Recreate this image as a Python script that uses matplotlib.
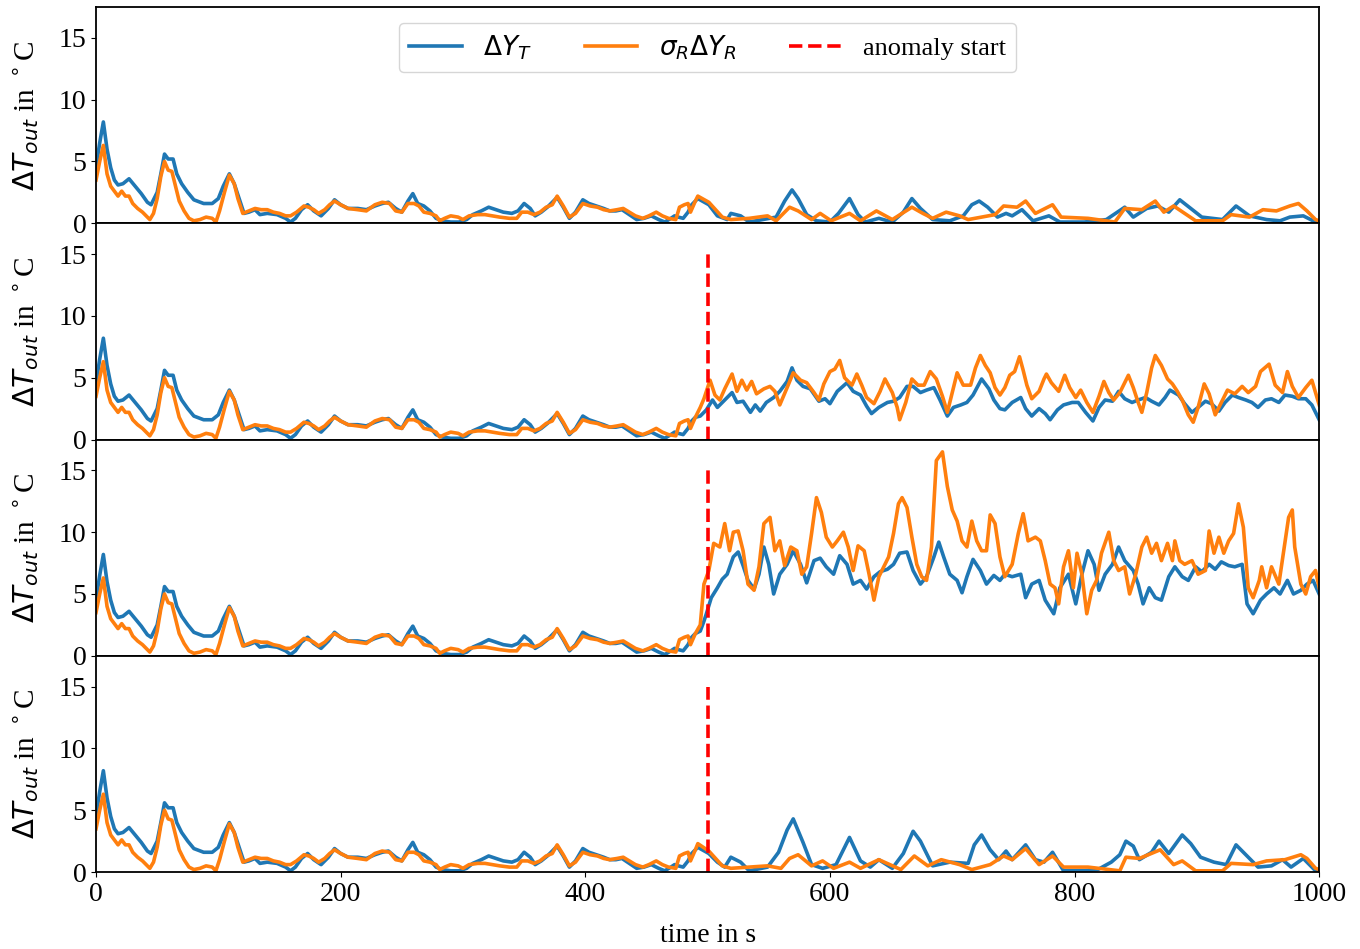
import numpy as np
import matplotlib
matplotlib.use("Agg")
import matplotlib.pyplot as plt

plt.rcParams["font.family"] = "serif"
plt.rcParams["font.serif"] = ["Liberation Serif", "DejaVu Serif"]
plt.rcParams["mathtext.fontset"] = "dejavusans"
plt.rcParams["font.size"] = 20

# shared part (0 .. 490 s), identical in every panel
t_pre = [0, 3, 6, 9, 12, 15, 18, 22, 27, 32, 37, 42, 45, 50, 53, 56, 59, 63, 66, 70, 75, 80, 88, 95,
         100, 104, 109, 113, 117, 121, 125, 130, 134, 140, 148, 155, 159, 163, 168, 173, 178, 184,
         190, 195, 200, 206, 214, 221, 228, 234, 239, 245, 250, 255, 259, 263, 268, 273, 278, 283,
         290, 297, 303, 308, 315, 321, 327, 333, 340, 345, 350, 355, 359, 364, 369, 377, 382, 387,
         392, 398, 403, 409, 415, 420, 425, 430, 436, 442, 448, 454, 460, 465, 470, 473, 476, 480,
         484, 487, 490]
blue_pre = [4.5, 6.5, 8.2, 6.0, 4.5, 3.5, 3.1, 3.2, 3.6, 3.0, 2.4, 1.7, 1.5, 2.5, 4.0, 5.6, 5.2, 5.2,
            4.0, 3.2, 2.5, 1.9, 1.6, 1.6, 2.0, 3.0, 4.0, 3.2, 2.0, 0.8, 0.9, 1.1, 0.7, 0.8, 0.7, 0.4,
            0.1, 0.4, 1.1, 1.5, 1.0, 0.6, 1.2, 1.9, 1.5, 1.2, 1.2, 1.1, 1.4, 1.6, 1.7, 1.2, 0.9, 1.8,
            2.4, 1.6, 1.4, 1.0, 0.4, 0.2, 0.1, 0.1, 0.3, 0.7, 1.0, 1.3, 1.1, 0.9, 0.8, 1.0, 1.6, 1.2,
            0.6, 0.9, 1.3, 2.1, 1.3, 0.4, 0.9, 1.9, 1.6, 1.4, 1.2, 1.0, 1.0, 1.1, 0.7, 0.3, 0.4, 0.6,
            0.3, 0.1, 0.4, 0.6, 0.5, 0.4, 0.9, 1.5, 1.8]
t_pre_o = [0, 3, 6, 9, 12, 15, 18, 21, 24, 27, 30, 34, 38, 42, 44, 47, 50, 53, 56, 59, 62, 65, 68, 72,
           76, 80, 85, 90, 95, 98, 101, 105, 109, 113, 116, 120, 125, 130, 135, 140, 145, 150, 155,
           159, 164, 170, 174, 178, 182, 187, 191, 195, 200, 206, 214, 221, 228, 234, 240, 245, 250,
           255, 260, 264, 268, 273, 278, 281, 285, 290, 296, 300, 305, 312, 318, 324, 330, 338, 344,
           348, 353, 358, 363, 368, 373, 377, 382, 387, 392, 398, 404, 410, 415, 420, 426, 431, 436,
           441, 447, 452, 458, 463, 468, 474, 477, 481, 484, 486, 490]
orange_pre = [3.5, 5.0, 6.3, 4.0, 3.0, 2.6, 2.2, 2.6, 2.2, 2.2, 1.6, 1.2, 0.9, 0.5, 0.3, 0.8, 2.0, 3.8,
              5.0, 4.3, 4.2, 3.0, 1.8, 1.0, 0.4, 0.2, 0.3, 0.5, 0.4, 0.1, 1.0, 2.5, 3.9, 3.2, 2.0,
              0.8, 1.0, 1.2, 1.1, 1.1, 0.9, 0.8, 0.6, 0.6, 0.9, 1.4, 1.3, 1.1, 0.8, 1.1, 1.5, 1.8,
              1.5, 1.2, 1.1, 1.0, 1.5, 1.7, 1.6, 1.0, 0.9, 1.6, 1.6, 1.4, 0.9, 0.8, 0.6, 0.2, 0.4,
              0.6, 0.5, 0.3, 0.6, 0.7, 0.7, 0.6, 0.5, 0.4, 0.4, 0.9, 0.9, 0.7, 0.9, 1.3, 1.5, 2.2,
              1.4, 0.5, 0.8, 1.6, 1.4, 1.3, 1.1, 1.0, 1.1, 1.2, 0.9, 0.6, 0.4, 0.6, 0.9, 0.6, 0.4,
              0.3, 1.3, 1.5, 1.6, 0.9, 1.8]

# panel 1: no anomaly
t1_b = [492, 501, 508, 516, 519, 527, 534, 545, 556, 563, 569, 574, 581, 589, 600, 607, 616, 623, 629,
        640, 651, 660, 667, 674, 684, 698, 709, 716, 722, 729, 737, 744, 749, 757, 766, 779, 788, 808,
        826, 841, 848, 859, 868, 877, 886, 895, 904, 921, 932, 943, 957, 968, 976, 987, 997, 1000]
blue_1 = [2.0, 1.5, 0.6, 0.3, 0.8, 0.6, 0.1, 0.3, 0.5, 1.8, 2.7, 2.0, 0.7, 0.2, 0.1, 0.8, 2.0, 0.7, 0.1,
          0.4, 0.1, 0.9, 2.0, 1.2, 0.3, 0.2, 0.6, 1.5, 1.8, 1.3, 0.5, 0.8, 0.6, 1.1, 0.2, 0.6, 0.1, 0.1,
          0.3, 1.3, 0.5, 1.2, 1.4, 0.9, 1.9, 1.2, 0.5, 0.3, 1.4, 0.6, 0.3, 0.2, 0.5, 0.6, 0.1, 0.1]
t1_o = [492, 501, 512, 519, 534, 549, 556, 567, 574, 585, 592, 601, 616, 625, 638, 651, 667, 676, 684,
        695, 706, 713, 724, 735, 742, 753, 760, 768, 782, 789, 811, 833, 841, 855, 866, 873, 881, 890,
        899, 921, 928, 943, 954, 965, 976, 983, 990, 997, 1000]
orange_1 = [2.2, 1.7, 0.5, 0.3, 0.4, 0.6, 0.2, 1.3, 1.0, 0.3, 0.8, 0.2, 0.8, 0.2, 1.0, 0.3, 1.3, 0.8,
            0.4, 0.9, 0.6, 0.3, 0.5, 0.7, 1.4, 1.3, 1.8, 0.8, 1.5, 0.5, 0.4, 0.1, 1.2, 1.1, 1.8, 0.9,
            1.4, 0.8, 0.2, 0.2, 0.7, 0.5, 1.1, 1.0, 1.4, 1.6, 1.0, 0.3, 0.2]

# panel 2: moderate anomaly
t2_b = [494, 499, 504, 508, 513, 520, 524, 529, 535, 539, 543, 548, 554, 559, 565, 569, 573, 578, 584,
        591, 596, 600, 606, 614, 619, 625, 630, 634, 640, 647, 652, 657, 663, 668, 674, 679, 685, 690,
        696, 701, 707, 712, 717, 724, 730, 734, 739, 743, 749, 756, 760, 765, 771, 776, 780, 786, 791,
        798, 803, 809, 815, 820, 825, 831, 836, 841, 847, 852, 858, 863, 869, 874, 878, 885, 890, 896,
        901, 907, 912, 918, 923, 929, 934, 940, 945, 950, 956, 961, 967, 972, 978, 983, 989, 994, 1000]
blue_2 = [1.9, 2.4, 3.2, 2.6, 3.1, 3.8, 3.0, 3.1, 2.2, 2.8, 2.3, 3.0, 3.4, 3.9, 4.7, 5.8, 4.8, 4.3, 4.1,
          3.1, 3.3, 2.9, 3.9, 4.6, 3.9, 3.6, 2.7, 2.1, 2.6, 3.0, 3.1, 3.4, 4.3, 4.3, 3.8, 4.0, 4.2, 3.2,
          1.9, 2.6, 2.8, 3.0, 3.6, 4.9, 4.1, 3.2, 2.5, 2.4, 3.0, 3.4, 2.5, 1.9, 2.5, 2.1, 1.6, 2.4, 2.8,
          3.0, 3.0, 2.2, 1.5, 2.6, 3.2, 3.1, 3.9, 3.3, 3.0, 3.2, 3.4, 3.1, 2.8, 3.4, 4.0, 3.6, 2.9, 2.2,
          2.6, 3.1, 2.9, 2.3, 3.0, 3.6, 3.4, 3.2, 3.0, 2.6, 3.2, 3.3, 3.0, 3.6, 3.5, 3.3, 3.3, 2.8, 1.6]
t2_o = [494, 497, 502, 506, 510, 514, 520, 524, 528, 532, 536, 540, 546, 551, 555, 559, 565, 570, 576,
        581, 587, 591, 595, 600, 604, 608, 612, 618, 622, 626, 630, 636, 641, 645, 651, 655, 657, 662,
        667, 672, 677, 682, 687, 692, 696, 700, 704, 709, 715, 719, 723, 727, 731, 735, 739, 743, 747,
        751, 755, 758, 761, 765, 771, 775, 777, 781, 787, 792, 796, 801, 805, 810, 815, 820, 824, 828,
        832, 837, 844, 848, 852, 855, 859, 863, 866, 871, 876, 880, 884, 888, 893, 897, 901, 906, 910,
        915, 920, 925, 931, 937, 942, 948, 952, 959, 964, 970, 974, 978, 983, 989, 994, 1000]
orange_2 = [2.6, 3.3, 4.8, 3.6, 3.2, 4.1, 5.3, 3.9, 4.8, 4.0, 4.7, 3.7, 4.1, 4.3, 3.9, 2.8, 4.2, 5.4,
            4.8, 4.6, 3.8, 3.2, 4.5, 5.5, 5.7, 6.4, 5.0, 4.4, 5.3, 4.4, 3.4, 2.9, 3.9, 4.9, 3.8, 2.6,
            1.6, 3.0, 4.9, 4.4, 4.4, 5.5, 4.9, 3.5, 2.2, 3.8, 5.4, 4.4, 4.4, 5.8, 6.8, 6.0, 5.4, 4.2,
            3.6, 4.2, 5.2, 5.5, 6.7, 5.6, 4.4, 3.3, 3.9, 4.9, 5.3, 4.6, 3.9, 5.2, 4.2, 3.4, 4.0, 3.0,
            2.2, 3.5, 4.7, 3.8, 3.2, 3.8, 5.2, 4.2, 3.0, 2.2, 3.8, 5.8, 6.8, 6.0, 4.9, 4.5, 3.9, 3.2,
            2.0, 1.4, 2.6, 4.5, 3.7, 2.0, 3.0, 4.0, 3.7, 4.3, 3.8, 4.3, 5.5, 6.1, 4.4, 3.8, 5.5, 4.3,
            3.4, 4.2, 4.8, 2.8]

# panel 3: strong anomaly
t3_b = [494, 497, 499, 503, 508, 512, 516, 521, 525, 529, 533, 538, 542, 546, 550, 554, 559, 565, 570,
        576, 581, 587, 592, 597, 603, 608, 614, 619, 625, 630, 636, 641, 647, 652, 657, 663, 668, 674,
        679, 685, 689, 693, 698, 704, 708, 712, 717, 723, 728, 734, 739, 743, 749, 756, 760, 765, 771,
        776, 783, 788, 795, 801, 806, 811, 816, 820, 825, 831, 836, 841, 848, 852, 856, 861, 866, 871,
        877, 882, 888, 893, 899, 904, 910, 915, 920, 926, 931, 937, 941, 946, 952, 957, 963, 968, 974,
        979, 985, 990, 995, 1000]
blue_3 = [2.0, 2.8, 3.4, 4.7, 5.5, 6.2, 6.6, 8.0, 8.4, 7.3, 6.1, 5.4, 6.6, 8.8, 7.4, 5.0, 6.6, 7.4, 8.5,
          7.4, 5.9, 7.7, 7.9, 7.2, 6.6, 8.1, 7.4, 5.8, 6.1, 5.4, 6.4, 6.8, 7.0, 7.4, 8.3, 8.4, 6.9, 5.8,
          6.4, 8.0, 9.2, 8.0, 6.6, 6.1, 5.1, 6.4, 7.8, 6.9, 5.8, 6.5, 6.1, 6.6, 6.4, 6.6, 4.7, 5.8, 6.1,
          4.5, 3.4, 5.5, 6.6, 4.2, 6.6, 8.5, 7.4, 5.3, 6.6, 7.4, 8.8, 7.7, 6.9, 5.8, 4.2, 5.5, 4.7, 4.5,
          6.4, 7.2, 6.4, 6.1, 7.2, 6.8, 7.4, 7.0, 7.6, 7.3, 7.2, 7.4, 4.2, 3.4, 4.5, 5.0, 5.5, 5.0, 6.1,
          5.0, 5.3, 5.8, 6.1, 5.0]
t3_o = [494, 497, 501, 505, 510, 514, 518, 521, 525, 529, 533, 538, 542, 546, 551, 555, 559, 563, 568,
        573, 577, 581, 585, 589, 593, 597, 602, 606, 611, 615, 619, 623, 628, 632, 636, 640, 644, 648,
        652, 656, 659, 663, 667, 671, 675, 679, 683, 687, 692, 696, 700, 704, 708, 712, 716, 720, 724,
        728, 731, 735, 739, 743, 749, 754, 758, 762, 768, 772, 776, 780, 784, 787, 791, 795, 799, 802,
        806, 810, 814, 818, 822, 828, 832, 836, 841, 845, 850, 855, 859, 863, 867, 871, 876, 880, 882,
        886, 890, 896, 901, 907, 910, 914, 918, 922, 926, 930, 934, 938, 942, 946, 951, 953, 957, 961,
        967, 971, 975, 978, 980, 985, 989, 993, 997, 1000]
orange_3 = [2.5, 5.8, 6.9, 9.1, 8.8, 10.7, 8.5, 10.0, 10.1, 8.5, 5.8, 5.3, 7.2, 10.7, 11.2, 8.5, 9.3,
            7.3, 8.8, 8.5, 6.6, 7.2, 9.9, 12.8, 11.6, 9.6, 8.8, 9.3, 10.0, 8.8, 6.9, 8.9, 8.5, 6.6,
            4.5, 6.4, 7.2, 8.0, 9.9, 12.3, 12.8, 12.0, 9.6, 7.4, 6.4, 6.1, 8.8, 15.8, 16.5, 13.7, 11.8,
            10.9, 9.3, 8.8, 10.9, 9.3, 8.5, 8.5, 11.4, 10.7, 8.0, 6.4, 7.4, 9.9, 11.5, 9.3, 9.6, 9.3,
            7.7, 5.8, 5.5, 4.2, 7.2, 8.5, 5.5, 8.3, 6.6, 3.4, 5.3, 6.1, 8.3, 10.0, 7.7, 6.9, 7.2, 5.0,
            6.6, 8.8, 9.6, 8.3, 9.1, 7.7, 9.1, 7.7, 9.3, 7.7, 7.4, 7.7, 6.6, 6.9, 10.1, 8.3, 9.6, 8.3,
            9.3, 9.9, 12.3, 10.4, 5.5, 4.7, 6.1, 7.2, 5.5, 7.2, 5.8, 8.5, 11.2, 11.8, 8.8, 5.8, 5.0,
            6.4, 6.9, 5.5]

# panel 4: anomaly with little effect on the residual
t4_b = [492, 501, 508, 514, 519, 527, 534, 549, 558, 565, 570, 578, 585, 594, 605, 616, 625, 633, 640,
        651, 660, 668, 674, 684, 698, 713, 718, 724, 731, 738, 744, 749, 760, 768, 775, 782, 791, 808,
        819, 830, 837, 842, 848, 853, 863, 869, 877, 888, 895, 903, 914, 924, 932, 939, 950, 961, 970,
        977, 987, 997, 1000]
blue_4 = [2.0, 1.5, 0.8, 0.4, 1.2, 0.8, 0.1, 0.4, 1.6, 3.4, 4.3, 2.4, 0.6, 0.3, 0.6, 2.8, 0.9, 0.4, 1.0,
          0.3, 1.5, 3.3, 2.5, 0.5, 0.8, 0.7, 2.2, 3.0, 1.8, 1.0, 1.7, 1.0, 2.2, 1.0, 0.8, 1.6, 0.1, 0.1,
          0.2, 0.8, 1.4, 2.5, 2.1, 1.0, 1.6, 2.5, 1.5, 3.0, 2.3, 1.2, 0.8, 0.6, 2.2, 1.5, 0.4, 0.5, 1.0,
          0.4, 1.1, 0.1, 0.1]
t4_o = [492, 501, 512, 519, 534, 549, 560, 567, 574, 585, 594, 603, 616, 625, 640, 658, 669, 680, 691,
        706, 716, 731, 742, 749, 760, 771, 782, 791, 811, 837, 842, 853, 870, 881, 888, 899, 921, 928,
        946, 957, 972, 985, 990, 997, 1000]
orange_4 = [2.3, 1.7, 0.5, 0.3, 0.4, 0.5, 0.3, 1.1, 1.4, 0.5, 0.9, 0.3, 0.8, 0.3, 1.0, 0.2, 1.3, 0.5,
            1.0, 0.6, 0.2, 0.6, 1.3, 1.0, 1.9, 0.6, 1.3, 0.4, 0.4, 0.1, 1.2, 1.1, 1.8, 0.6, 0.9, 0.1,
            0.1, 0.7, 0.6, 0.9, 1.0, 1.4, 1.1, 0.3, 0.2]

panels = [(t1_b, blue_1, t1_o, orange_1, False),
          (t2_b, blue_2, t2_o, orange_2, True),
          (t3_b, blue_3, t3_o, orange_3, True),
          (t4_b, blue_4, t4_o, orange_4, True)]
anomaly_t = 500

fig, axes = plt.subplots(4, 1, sharex=True, figsize=(13.6, 9.49), dpi=100)
fig.subplots_adjust(left=0.0706, right=0.970, top=0.9926, bottom=0.0811, hspace=0)

for ax, (tb, yb, to, yo, anom) in zip(axes, panels):
    ax.plot(t_pre + tb, blue_pre + yb, color="#1f77b4", lw=2.6, label=r"$\Delta Y_T$")
    ax.plot(t_pre_o + to, orange_pre + yo, color="#ff7f0e", lw=2.6, label=r"$\sigma_R\Delta Y_R$")
    if anom:
        ax.vlines(anomaly_t, 0, 15, colors="red", linestyles="--", lw=2.6, label="anomaly start")
    ax.set_ylim(0, 17.5)
    ax.set_xlim(0, 1000)
    ax.set_yticks([0, 5, 10, 15])
    ax.set_ylabel(r"$\Delta T_{out}$ in $^\circ$C", fontsize=21)
    ax.yaxis.set_label_coords(-0.045, 0.5)
    for s in ax.spines.values():
        s.set_linewidth(1.3)
    if ax is not axes[-1]:
        ax.tick_params(axis="x", bottom=False)

h1, l1 = axes[0].get_legend_handles_labels()
h2, l2 = axes[1].get_legend_handles_labels()
axes[0].legend(h1 + h2[2:], l1 + l2[2:], loc="upper center", ncol=3, fontsize=19,
               borderaxespad=0.6)

axes[-1].set_xticks([0, 200, 400, 600, 800, 1000])
axes[-1].set_xlabel("time in s", labelpad=12)

plt.savefig("out.png", dpi=100)
